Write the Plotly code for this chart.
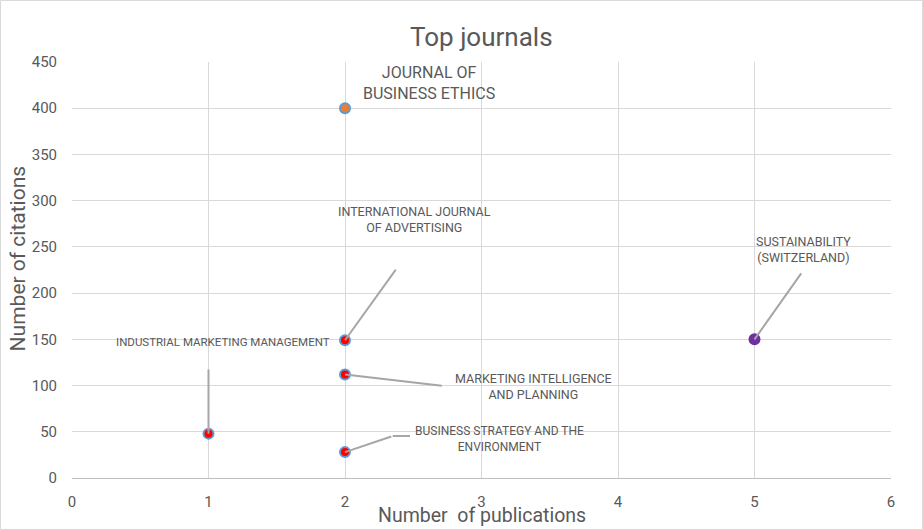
import plotly.graph_objects as go

journals = ["JOURNAL OF BUSINESS ETHICS", "INTERNATIONAL JOURNAL OF ADVERTISING",
            "MARKETING INTELLIGENCE AND PLANNING", "BUSINESS STRATEGY AND THE ENVIRONMENT",
            "INDUSTRIAL MARKETING MANAGEMENT", "SUSTAINABILITY (SWITZERLAND)"]
publications = [2, 2, 2, 2, 1, 5]
citations = [400, 149, 112, 28, 48, 150]
fill_colors = ["#ED7D31", "#FF0000", "#FF0000", "#FF0000", "#FF0000", "#7030A0"]
edge_colors = ["#5B9BD5", "#5B9BD5", "#5B9BD5", "#5B9BD5", "#5B9BD5", "#7030A0"]
x_ticks = [0, 1, 2, 3, 4, 5, 6]
y_ticks = [0, 50, 100, 150, 200, 250, 300, 350, 400, 450]

FONT = "Roboto, sans-serif"
GREY = "#595959"

fig = go.Figure()
fig.add_trace(go.Scatter(
    x=publications, y=citations, mode="markers", text=journals,
    marker=dict(size=10, color=fill_colors, line=dict(color=edge_colors, width=2)),
    hovertemplate="%{text}<br>%{x}, %{y}<extra></extra>", showlegend=False))

# label layout: (index, text, label x, label y, leader end x, leader end y, font size)
labels = [
    (0, "JOURNAL OF<br>BUSINESS ETHICS", 2.615, 427, None, None, 16),
    (1, "INTERNATIONAL JOURNAL<br>OF ADVERTISING", 2.51, 280, 2.38, 227, 12.5),
    (2, "MARKETING INTELLIGENCE<br>AND PLANNING", 3.38, 99, 2.72, 99.5, 12.5),
    (3, "BUSINESS STRATEGY AND THE<br>ENVIRONMENT", 3.13, 42, 2.35, 45.4, 12),
    (4, "INDUSTRIAL MARKETING MANAGEMENT", 1.106, 147, 1.0, 119, 11.5),
    (5, "SUSTAINABILITY<br>(SWITZERLAND)", 5.36, 247, 5.35, 223, 12.5),
]
for i, txt, lx, ly, ex, ey, fs in labels:
    fig.add_annotation(x=lx, y=ly, text=txt, showarrow=False,
                       font=dict(family=FONT, size=fs, color=GREY), align="center")
    if ex is not None:
        fig.add_annotation(x=publications[i], y=citations[i], ax=ex, ay=ey,
                           axref="x", ayref="y", text="", showarrow=True,
                           arrowhead=0, arrowwidth=2, arrowcolor="#A6A6A6",
                           standoff=0, startstandoff=0)
# horizontal tail of BSE leader
fig.add_shape(type="line", x0=2.35, y0=45.4, x1=2.476, y1=45.4,
              line=dict(color="#A6A6A6", width=2))

# title and axis titles
fig.add_annotation(xref="paper", yref="paper", x=0.5, y=1.06, text="Top journals",
                   showarrow=False, yanchor="middle",
                   font=dict(family=FONT, size=26, color=GREY))
fig.add_annotation(xref="paper", yref="paper", x=0.5, y=-0.0905,
                   text="Number  of publications", showarrow=False, yanchor="middle",
                   font=dict(family=FONT, size=19.5, color=GREY))
fig.add_annotation(xref="paper", yref="paper", x=-0.0659, y=0.528,
                   text="Number of citations", showarrow=False, textangle=-90,
                   xanchor="center", yanchor="middle",
                   font=dict(family=FONT, size=21, color=GREY))

# outer border
fig.add_shape(type="rect", xref="paper", yref="paper",
              x0=-0.0873, x1=1.0385, y0=-0.1238, y1=1.148,
              line=dict(color="#D9D9D9", width=1))

fig.update_layout(
    width=923, height=530,
    margin=dict(l=72, r=32, t=62, b=52, autoexpand=False),
    paper_bgcolor="white", plot_bgcolor="white",
    font=dict(family=FONT, color=GREY),
    xaxis=dict(range=[0, 6], tickvals=x_ticks, showgrid=True, gridcolor="#D9D9D9",
               gridwidth=1, zeroline=False, showline=True, linecolor="#BFBFBF",
               ticks="", tickfont=dict(size=15, color=GREY), ticklabelstandoff=10,
               automargin=False),
    yaxis=dict(range=[0, 450], tickvals=y_ticks, showgrid=True, gridcolor="#D9D9D9",
               gridwidth=1, zeroline=False, showline=False, ticks="",
               tickfont=dict(size=15, color=GREY), ticklabelstandoff=14,
               automargin=False),
)

fig.write_html("out.html", config={"displayModeBar": False},
               post_script="document.body.style.margin='0';document.body.style.overflow='hidden';")
